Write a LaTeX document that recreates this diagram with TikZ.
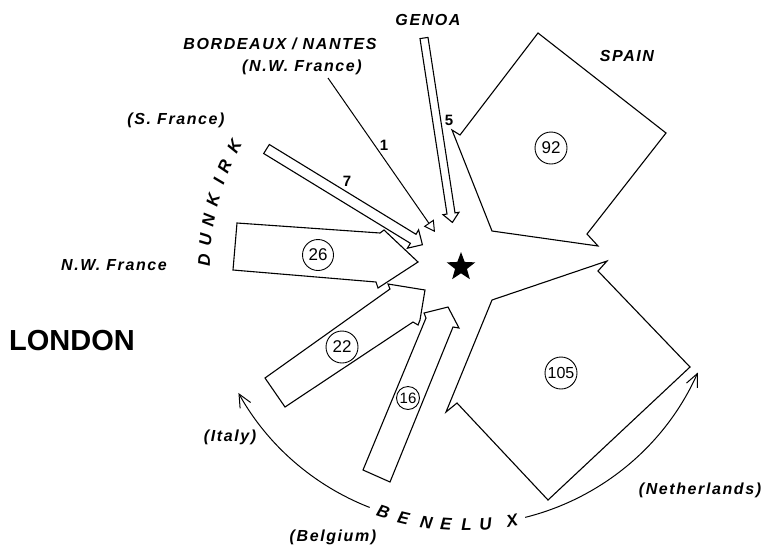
\documentclass[tikz,border=0pt]{standalone}
\usepackage{fontspec}
\setmainfont{Liberation Sans}
\newfontfamily\letterfont{Liberation Sans}[LetterSpace=10]
\usetikzlibrary{arrows.meta,shapes.geometric}

\begin{document}
\begin{tikzpicture}[x=1pt,y=-1pt,line width=1.1pt,line join=miter,
    flow/.style={draw=black,fill=white},
    place/.style={font=\fontsize{16}{16}\selectfont\letterfont\bfseries\itshape,inner sep=0pt},
    count/.style={draw,circle,line width=0.9pt,inner sep=0pt,minimum size=32pt,font=\fontsize{17}{17}\selectfont},
    share/.style={font=\fontsize{15}{15}\selectfont\bfseries,inner sep=0pt},
    arcletter/.style={font=\fontsize{17}{17}\selectfont\bfseries\itshape,inner sep=0pt}]
  \useasboundingbox (0,0) rectangle (763,550);
  \coordinate (ctr) at (463,268);
  % hub
  \node[star,star points=5,star point ratio=2.4,fill=black,minimum size=30pt,inner sep=0pt] (hub) at (461,267) {};
  % big flows (Spain, Netherlands)
  \draw[flow] (538,33) -- (666,133) -- (587,234) -- (598,246) -- (492,231) -- (452,130) -- (460,135) -- cycle;
  \draw[flow] (492,300) -- (607,261) -- (598,271) -- (690,367) -- (548,500) -- (457,403) -- (446,412) -- cycle;
  % medium flows
  \draw[flow] (237,223) -- (380,233) -- (384,230) -- (418,262) -- (378,288) -- (376,282) -- (233,270) -- cycle;
  \draw[flow] (265,378) -- (390,289) -- (388,284) -- (425,290) -- (420,320) -- (418,325) -- (413,322) -- (285,407) -- cycle;
  \draw[flow] (363,470) -- (426,318) -- (424,313) -- (448,307) -- (459,328) -- (453,327) -- (390,482) -- cycle;
  % thin flows
  \draw[flow] (269.3,144.5) -- (416,234.3) -- (418.6,229.8) -- (422.4,244.7) -- (407.4,248.2) -- (410.4,243.3) -- (263.7,153.5) -- cycle;
  \draw[flow] (420,38.6) -- (447,214) -- (443,214.7) -- (452.4,222.4) -- (458.9,212.3) -- (455,212.9) -- (428,37.4) -- cycle;
  \coordinate (bdxs) at (328,78);
  \coordinate (bdxe) at (435,232);
  \draw[line width=1pt,-{Triangle[open,length=11pt,width=12pt]}] (bdxs) -- (bdxe);
  % volumes
  \node[count] (v92) at (551,148) {92};
  \node[count,font=\fontsize{16}{16}\selectfont] (v105) at (561,373) {105};
  \node[count,minimum size=31pt] (v26) at (318,255) {26};
  \node[count] (v22) at (342,347) {22};
  \node[count,minimum size=23pt,font=\fontsize{15}{15}\selectfont] (v16) at (408,398) {16};
  \node[share] (n1) at (384,145) {1};
  \node[share] (n5) at (449,120) {5};
  \node[share] (n7) at (347,181) {7};
  % places
  \node[place] (genoa) at (428,20) {GENOA};
  \node[place] (bdx) at (280,44) {BORDEAUX / NANTES};
  \node[place] (bdxsub) at (302,67) {(N.W. France)};
  \node[place] (sfr) at (176,120) {(S. France)};
  \node[place] (spain) at (627,56) {SPAIN};
  \node[place] (nwfr) at (114,265) {N.W. France};
  \node[place] (italy) at (230,437) {(Italy)};
  \node[place] (belg) at (333,537) {(Belgium)};
  \node[place] (neth) at (700,490) {(Netherlands)};
  \node[font=\fontsize{29}{29}\selectfont\bfseries,inner sep=0pt] (london) at (72,341) {LONDON};
  % ports on the ring
  \foreach \ch/\ang [count=\i] in {D/181.8,U/186.2,N/190.7,K/195.3,I/199.5,R/203.0,K/208.0}
    \node[arcletter,rotate=-\ang-90] (dun\i) at ([shift={(\ang:259)}]ctr) {\ch};
  \foreach \ch/\ang [count=\i] in {B/108.1,E/103.4,N/98.2,E/93.8,L/89.2,U/85.0,X/79.0}
    \node[arcletter,rotate=90-\ang] (ben\i) at ([shift={(\ang:257)}]ctr) {\ch};
  \draw[line width=1pt,-{Straight Barb[length=13pt,width=12pt]}] ([shift={(111.3:257)}]ctr) arc[start angle=111.3,end angle=150.9,radius=257];
  \draw[line width=1pt,-{Straight Barb[length=13pt,width=12pt]}] ([shift={(76:257)}]ctr) arc[start angle=76,end angle=24,radius=257];
\end{tikzpicture}
\end{document}
